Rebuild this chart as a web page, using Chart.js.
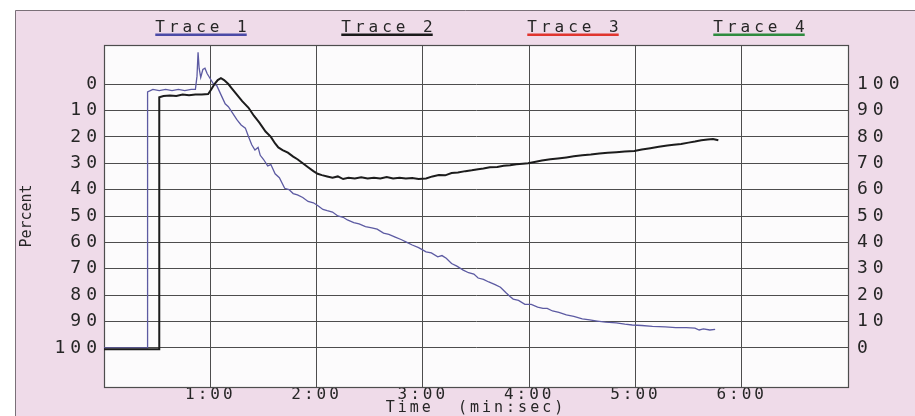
<!DOCTYPE html>
<html>
<head>
<meta charset="utf-8">
<script src="https://cdn.jsdelivr.net/npm/chart.js@4"></script>
<style>
  html, body { margin: 0; padding: 0; background: #fff; }
  canvas { display: block; }
</style>
</head>
<body>
<canvas id="chart" width="915" height="416" style="width:915px;height:416px"></canvas>
<script>
// Time in minutes, values in percent (left axis, 0 at top)
const TRACE1_TIME = [0, 0.41, 0.41, 0.46, 0.52, 0.58, 0.64, 0.70, 0.76, 0.82, 0.86, 0.875, 0.885, 0.895, 0.91, 0.93, 0.95, 0.97, 1.0, 1.03, 1.06, 1.1, 1.14, 1.17, 1.21, 1.25, 1.29, 1.33, 1.36, 1.39, 1.42, 1.45, 1.47, 1.5, 1.54, 1.57, 1.61, 1.65, 1.7, 1.74, 1.78, 1.82, 1.87, 1.92, 1.97, 2.01, 2.06, 2.1, 2.15, 2.2, 2.25, 2.29, 2.35, 2.4, 2.46, 2.52, 2.57, 2.63, 2.68, 2.74, 2.8, 2.85, 2.9, 2.96, 3.03, 3.08, 3.14, 3.18, 3.22, 3.27, 3.32, 3.38, 3.43, 3.48, 3.52, 3.57, 3.62, 3.68, 3.73, 3.78, 3.82, 3.85, 3.9, 3.96, 4.02, 4.08, 4.13, 4.17, 4.22, 4.28, 4.35, 4.42, 4.5, 4.57, 4.64, 4.72, 4.82, 4.9, 4.97, 5.06, 5.16, 5.28, 5.38, 5.48, 5.56, 5.6, 5.64, 5.7, 5.75];
const TRACE1_PCT = [100, 100, 3, 2, 2.5, 2, 2.5, 2, 2.5, 2, 2, -3, -12, -6, -2.5, -5.5, -6, -4, -2, 0, 0.5, 4, 7.5, 8.6, 11, 13.5, 15.5, 16.7, 20, 23, 25, 24, 27, 28.5, 31, 30.5, 34, 35.5, 39.5, 40, 41.5, 42, 43, 44.5, 45, 46, 47.5, 48, 48.5, 50, 50.5, 51.5, 52.5, 53, 54, 54.5, 55, 56.5, 57, 58, 59, 60, 61, 62, 63.6, 64, 65.5, 65, 66, 68, 69, 70.5, 71.5, 72, 73.5, 74, 75, 76, 77, 79, 80.5, 81.5, 82, 83.5, 83.5, 84.5, 85, 85, 86, 86.5, 87.5, 88, 89, 89.4, 89.8, 90.2, 90.5, 91, 91.3, 91.5, 91.8, 92, 92.3, 92.3, 92.5, 93.2, 92.8, 93.2, 93];

const TRACE2_TIME = [0, 0.52, 0.52, 0.56, 0.62, 0.68, 0.74, 0.8, 0.86, 0.92, 0.98, 1.01, 1.04, 1.07, 1.1, 1.13, 1.17, 1.2, 1.25, 1.3, 1.36, 1.41, 1.46, 1.52, 1.57, 1.61, 1.64, 1.68, 1.73, 1.78, 1.82, 1.87, 1.92, 1.97, 2.01, 2.05, 2.1, 2.15, 2.2, 2.25, 2.3, 2.36, 2.42, 2.48, 2.54, 2.6, 2.66, 2.72, 2.78, 2.84, 2.9, 2.96, 3.03, 3.09, 3.15, 3.21, 3.27, 3.33, 3.4, 3.46, 3.52, 3.57, 3.63, 3.7, 3.76, 3.82, 3.88, 3.94, 3.99, 4.05, 4.12, 4.2, 4.27, 4.35, 4.42, 4.5, 4.58, 4.66, 4.74, 4.82, 4.9, 4.99, 5.06, 5.14, 5.22, 5.3, 5.36, 5.43, 5.5, 5.56, 5.62, 5.68, 5.73, 5.78];
const TRACE2_PCT = [100.5, 100.5, 5, 4.5, 4.3, 4.5, 4, 4.2, 4, 4, 3.8, 2, 0, -1.5, -2.2, -1.5, 0, 1.5, 4, 6.5, 9, 12, 14.5, 18, 20, 22.5, 24, 25, 26, 27.5, 28.5, 30, 31.5, 33, 34, 34.5, 35, 35.5, 35, 36, 35.5, 35.8, 35.3, 35.8, 35.5, 35.8, 35.2, 35.8, 35.5, 35.8, 35.6, 36, 35.8, 35, 34.5, 34.6, 33.7, 33.5, 33, 32.7, 32.3, 32, 31.5, 31.4, 31, 30.8, 30.4, 30.2, 30, 29.5, 29, 28.5, 28.2, 27.8, 27.4, 27, 26.7, 26.3, 26, 25.8, 25.6, 25.4, 24.8, 24.3, 23.8, 23.3, 23, 22.7, 22.2, 21.8, 21.3, 21, 20.8, 21.3];

const TIME_TICKS = [1, 2, 3, 4, 5, 6];
const PCT_TICKS = [0, 10, 20, 30, 40, 50, 60, 70, 80, 90, 100];
const TRACE_NAMES = ['Trace 1', 'Trace 2', 'Trace 3', 'Trace 4'];
const TRACE_COLORS = ['#4b4aa6', '#1a1a1a', '#e0352e', '#2e8b3e'];

const FONT = '"DejaVu Sans Mono", "Liberation Mono", monospace';
const INK = '#262626';
const GRID = '#4d4d4d';

// letter spacing per scale (the printout uses a very wide typewriter face)
const TICK_SPACING = { x: '3px', y: '5px', y2: '5px' };
const TITLE_SPACING = { x: '3px', y: '0px', y2: '0px' };

function toPoints(times, values) {
  return times.map((t, i) => ({ x: t, y: values[i] }));
}

const spacingPlugin = {
  id: 'spacing',
  afterUpdate(chart) {
    const ctx = chart.ctx;
    Object.values(chart.scales).forEach(scale => {
      if (scale._spaced) return;
      scale._spaced = true;
      const drawLabels = scale.drawLabels.bind(scale);
      const drawTitle = scale.drawTitle.bind(scale);
      scale.drawLabels = (area) => {
        ctx.save();
        ctx.letterSpacing = TICK_SPACING[scale.id] || '0px';
        drawLabels(area);
        ctx.restore();
      };
      scale.drawTitle = () => {
        ctx.save();
        ctx.letterSpacing = TITLE_SPACING[scale.id] || '0px';
        drawTitle();
        ctx.restore();
      };
    });
  }
};

const paperPlugin = {
  id: 'paper',
  beforeDraw(chart) {
    const { ctx, width, height, chartArea: a } = chart;
    ctx.save();
    ctx.fillStyle = '#ffffff';
    ctx.fillRect(0, 0, width, height);
    ctx.fillStyle = '#efdbe9';
    ctx.fillRect(15, 10, width - 15, height - 10);
    ctx.strokeStyle = '#7a7078';
    ctx.lineWidth = 1;
    ctx.beginPath();
    ctx.moveTo(15.5, height);
    ctx.lineTo(15.5, 10.5);
    ctx.lineTo(width, 10.5);
    ctx.stroke();
    ctx.fillStyle = '#fcfbfc';
    ctx.fillRect(a.left, a.top, a.right - a.left, a.bottom - a.top);
    ctx.restore();
  },
  beforeDatasetsDraw(chart) {
    const { ctx, chartArea: a } = chart;
    ctx.save();
    ctx.strokeStyle = GRID;
    ctx.lineWidth = 1.2;
    ctx.strokeRect(Math.round(a.left) + 0.5, Math.round(a.top) + 0.5, Math.round(a.right - a.left), Math.round(a.bottom - a.top));
    ctx.restore();
  },
  afterDraw(chart) {
    const { ctx, chartArea: a } = chart;
    const slot = (a.right - a.left) / TRACE_NAMES.length;
    ctx.save();
    ctx.font = '16px ' + FONT;
    ctx.letterSpacing = '4px';
    ctx.textAlign = 'center';
    ctx.textBaseline = 'alphabetic';
    TRACE_NAMES.forEach((name, i) => {
      const cx = a.left + slot * (i + 0.5) + 6;
      ctx.fillStyle = INK;
      ctx.fillText(name, cx, 32);
      const w = ctx.measureText(name).width - 4;
      ctx.fillStyle = TRACE_COLORS[i];
      ctx.fillRect(cx - w / 2 - 2, 33.5, w, 2.5);
    });
    ctx.restore();
  }
};

new Chart(document.getElementById('chart'), {
  type: 'line',
  data: {
    datasets: [
      {
        label: 'Trace 2',
        data: toPoints(TRACE2_TIME, TRACE2_PCT),
        borderColor: '#1c1c1c',
        borderWidth: 2,
        pointRadius: 0,
        tension: 0,
        order: 0,
        yAxisID: 'y'
      },
      {
        label: 'Trace 1',
        data: toPoints(TRACE1_TIME, TRACE1_PCT),
        borderColor: '#5c5aa2',
        borderWidth: 1.3,
        pointRadius: 0,
        tension: 0,
        order: 1,
        yAxisID: 'y'
      }
    ]
  },
  options: {
    responsive: false,
    animation: false,
    layout: { padding: { top: 45, left: 0, right: 0, bottom: 0 } },
    plugins: {
      legend: { display: false },
      tooltip: { enabled: false }
    },
    scales: {
      x: {
        type: 'linear',
        min: 0,
        max: 7,
        afterBuildTicks: s => { s.ticks = TIME_TICKS.map(v => ({ value: v })); },
        afterFit: s => { s.height = 29; },
        grid: { color: GRID, lineWidth: 1, drawTicks: false },
        border: { color: GRID },
        ticks: {
          color: INK,
          padding: -2,
          maxRotation: 0,
          font: { family: FONT, size: 16 },
          callback: v => v + ':00'
        },
        title: {
          display: true,
          text: 'Time  (min:sec)',
          color: INK,
          padding: 0,
          font: { family: FONT, size: 15, lineHeight: 1 }
        }
      },
      y: {
        position: 'left',
        reverse: true,
        min: -14.8,
        max: 114.8,
        afterBuildTicks: s => { s.ticks = PCT_TICKS.map(v => ({ value: v })); },
        afterFit: s => { s.width = 104; },
        grid: { color: GRID, lineWidth: 1, drawTicks: false },
        border: { color: GRID },
        ticks: {
          color: INK,
          padding: 2,
          font: { family: FONT, size: 18 }
        },
        title: {
          display: true,
          text: 'Percent',
          color: INK,
          padding: { top: 18, bottom: 0 },
          font: { family: FONT, size: 15 }
        }
      },
      y2: {
        position: 'right',
        min: -14.8,
        max: 114.8,
        afterBuildTicks: s => { s.ticks = PCT_TICKS.map(v => ({ value: v })); },
        afterFit: s => { s.width = 67; },
        grid: { display: false, drawTicks: false },
        border: { color: GRID },
        ticks: {
          color: INK,
          padding: 9,
          font: { family: FONT, size: 18 }
        }
      }
    }
  },
  plugins: [spacingPlugin, paperPlugin]
});
</script>
</body>
</html>
